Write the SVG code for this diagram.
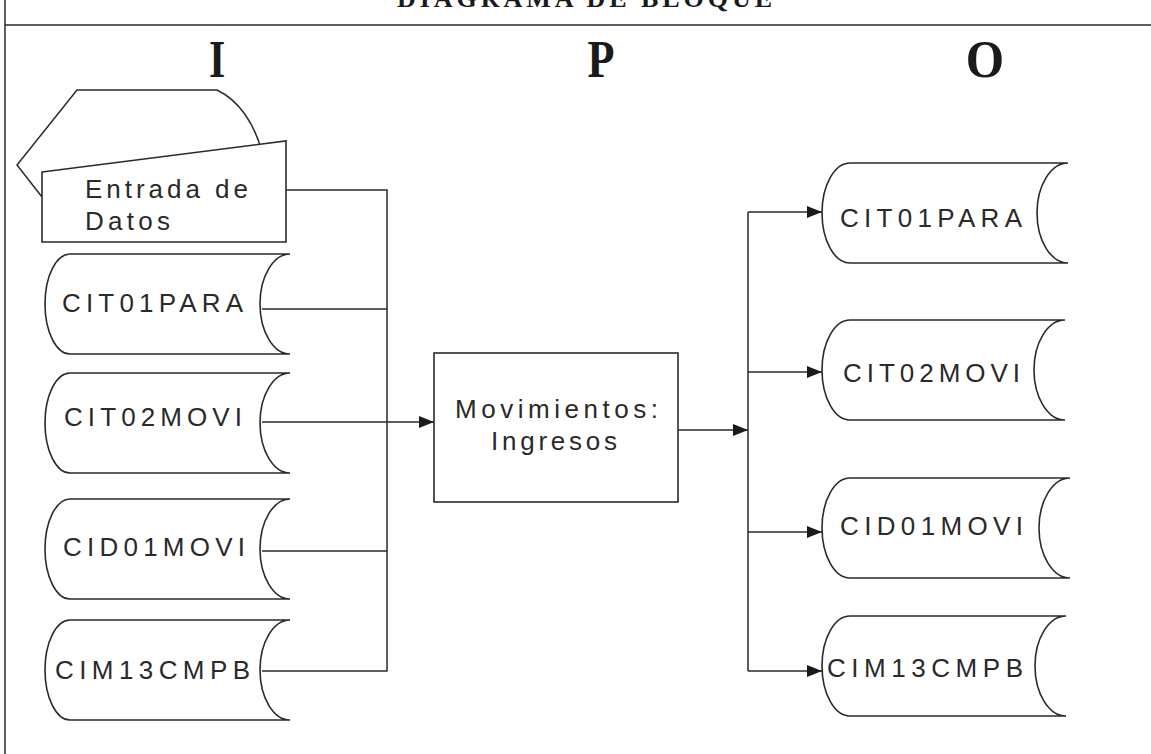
<svg xmlns="http://www.w3.org/2000/svg" width="1151" height="754" viewBox="0 0 1151 754">
<style>
.s{fill:#fff;stroke:#2a2a2a;stroke-width:1.6}
.c{fill:none;stroke:#2a2a2a;stroke-width:1.5}
.t{font-family:"Liberation Sans",Arial,sans-serif;font-size:26px;fill:#2a2a2a}
.h{font-family:"Liberation Serif","Times New Roman",serif;font-weight:bold;fill:#1a1a1a}
</style>
<defs>
<marker id="ar" markerUnits="userSpaceOnUse" markerWidth="16" markerHeight="12" refX="15" refY="6" orient="auto">
<path d="M0,0 L15,6 L0,12 Z" fill="#1a1a1a"/>
</marker>
</defs>
<rect width="1151" height="754" fill="#fff"/>
<g id="frame">
<line x1="5" y1="0" x2="5" y2="754" class="c"/>
<line x1="5" y1="25" x2="1151" y2="25" class="c"/>
<text class="h" x="397" y="7" font-size="26" textLength="375" lengthAdjust="spacing">DIAGRAMA DE BLOQUE</text>
<text class="h" font-size="52" text-anchor="middle" transform="translate(217,77) scale(0.8,1)">I</text>
<text class="h" font-size="52" text-anchor="middle" transform="translate(601,77) scale(0.85,1)">P</text>
<text class="h" font-size="52" text-anchor="middle" transform="translate(985,77) scale(0.95,1)">O</text>
</g>
<g id="connectors">
<polyline class="c" points="286,190 387,190 387,671 262,671"/>
<line class="c" x1="262" y1="309" x2="387" y2="309"/>
<line class="c" x1="262" y1="551" x2="387" y2="551"/>
<line class="c" x1="262" y1="422" x2="434" y2="422" marker-end="url(#ar)"/>
<line class="c" x1="678" y1="430" x2="748" y2="430" marker-end="url(#ar)"/>
<line class="c" x1="748" y1="212" x2="748" y2="671"/>
<line class="c" x1="748" y1="212" x2="822" y2="212" marker-end="url(#ar)"/>
<line class="c" x1="748" y1="372" x2="822" y2="372" marker-end="url(#ar)"/>
<line class="c" x1="748" y1="532" x2="822" y2="532" marker-end="url(#ar)"/>
<line class="c" x1="748" y1="671" x2="822" y2="671" marker-end="url(#ar)"/>
</g>
<g id="entrada">
<path class="c" d="M42,197 L17,165 L77,90 L217,90 C238,100 254,122 262,152"/>
<path class="s" d="M42,172 L286,141 L286,242 L42,242 Z"/>
<text class="t" x="85" y="198" textLength="163" lengthAdjust="spacing">Entrada de</text>
<text class="t" x="85" y="230" textLength="85" lengthAdjust="spacing">Datos</text>
</g>
<g id="in-cit01para">
<path class="s" d="M70,254 H290 A30 50 0 0 0 290,354 H70 A25 50 0 0 1 70,254 Z"/>
<text class="t" x="62" y="312" textLength="181" lengthAdjust="spacing">CIT01PARA</text>
</g>
<g id="in-cit02movi">
<path class="s" d="M70,373 H290 A30 50 0 0 0 290,473 H70 A25 50 0 0 1 70,373 Z"/>
<text class="t" x="64" y="426" textLength="178" lengthAdjust="spacing">CIT02MOVI</text>
</g>
<g id="in-cid01movi">
<path class="s" d="M70,499 H290 A30 50 0 0 0 290,599 H70 A25 50 0 0 1 70,499 Z"/>
<text class="t" x="63" y="556" textLength="182" lengthAdjust="spacing">CID01MOVI</text>
</g>
<g id="in-cim13cmpb">
<path class="s" d="M70,620 H290 A30 50 0 0 0 290,720 H70 A25 50 0 0 1 70,620 Z"/>
<text class="t" x="55" y="679" textLength="195" lengthAdjust="spacing">CIM13CMPB</text>
</g>
<g id="proceso">
<rect class="s" x="434" y="353" width="244" height="149"/>
<text class="t" x="455" y="418" textLength="203" lengthAdjust="spacing">Movimientos:</text>
<text class="t" x="491" y="450" textLength="126" lengthAdjust="spacing">Ingresos</text>
</g>
<g id="out-cit01para">
<path class="s" d="M850,163 H1068 A31 50 0 0 0 1068,263 H850 A28 50 0 0 1 850,163 Z"/>
<text class="t" x="840" y="227" textLength="182" lengthAdjust="spacing">CIT01PARA</text>
</g>
<g id="out-cit02movi">
<path class="s" d="M850,320 H1065 A31 50 0 0 0 1065,420 H850 A28 50 0 0 1 850,320 Z"/>
<text class="t" x="843" y="382" textLength="177" lengthAdjust="spacing">CIT02MOVI</text>
</g>
<g id="out-cid01movi">
<path class="s" d="M850,478 H1070 A31 50 0 0 0 1070,578 H850 A28 50 0 0 1 850,478 Z"/>
<text class="t" x="840" y="535" textLength="183" lengthAdjust="spacing">CID01MOVI</text>
</g>
<g id="out-cim13cmpb">
<path class="s" d="M850,616 H1066 A31 50 0 0 0 1066,716 H850 A28 50 0 0 1 850,616 Z"/>
<text class="t" x="827" y="677" textLength="196" lengthAdjust="spacing">CIM13CMPB</text>
</g>
</svg>
